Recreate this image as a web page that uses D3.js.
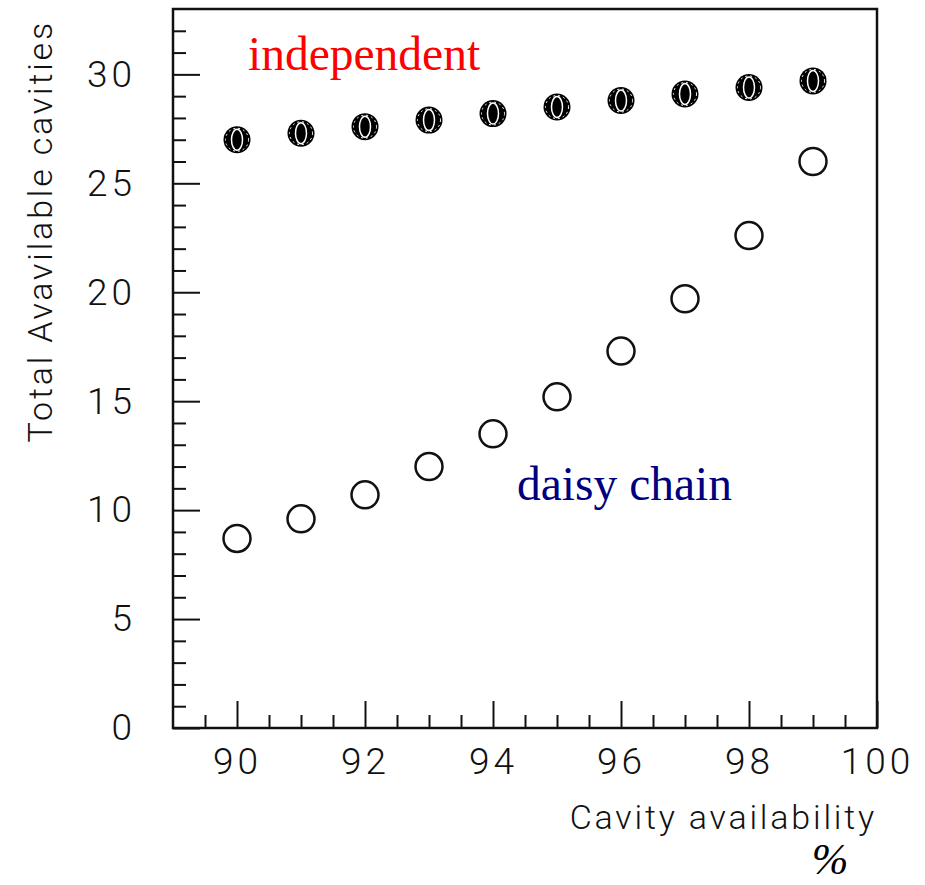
<!DOCTYPE html>
<html>
<head>
<meta charset="utf-8">
<script src="https://cdn.jsdelivr.net/npm/d3@7"></script>
<style>
body { margin:0; background:#fff; }
.axis text { font-family: Roboto, "DejaVu Sans", sans-serif; font-weight:300; fill:#111; }
</style>
</head>
<body>
<svg id="plot"></svg>
<script>
// cavity availability in %
var availability = [90,91,92,93,94,95,96,97,98,99];
// total available cavities, each cavity independent
var independent = [27.0,27.3,27.6,27.9,28.2,28.5,28.8,29.1,29.4,29.7];
// total available cavities, daisy chained
var daisyChain = [8.7,9.6,10.7,12.0,13.5,15.2,17.3,19.7,22.6,26.0];

var xMajor = [90,92,94,96,98,100];
var yMajor = [0,5,10,15,20,25,30];

var screen = {width:925, height:885};
var frame = {left:173, right:877, top:9, bottom:728};

var svg = d3.select("#plot")
    .attr("width",screen.width)
    .attr("height",screen.height);

var xScale = d3.scaleLinear()
    .domain([89,100])
    .range([frame.left,frame.right]);
var yScale = d3.scaleLinear()
    .domain([0,33])
    .range([frame.bottom,frame.top]);

//minor ticks every half unit on x, every unit on y
var xMinor = d3.range(89.5,100,0.5).filter(function(v){ return v%2!=0; });
var yMinor = d3.range(1,33,1).filter(function(v){ return v%5!=0; });

var axes = svg.append("g").classed("axis",true);

axes.append("g")
    .attr("transform","translate(0,"+frame.bottom+")")
    .call(d3.axisBottom(xScale).tickValues(xMinor).tickSize(-13).tickFormat(""));
axes.append("g")
    .attr("transform","translate(0,"+frame.bottom+")")
    .call(d3.axisBottom(xScale).tickValues(xMajor).tickSize(-27).tickPadding(20).tickFormat(d3.format("d")));
axes.append("g")
    .attr("transform","translate("+frame.left+",0)")
    .call(d3.axisLeft(yScale).tickValues(yMinor).tickSize(-13).tickFormat(""));
axes.append("g")
    .attr("transform","translate("+frame.left+",0)")
    .call(d3.axisLeft(yScale).tickValues(yMajor).tickSize(-27).tickPadding(37).tickFormat(d3.format("d")));

axes.selectAll(".domain").remove();
axes.selectAll("line").attr("stroke","#111").attr("stroke-width",2);
axes.selectAll("text")
    .attr("font-size",37)
    .attr("letter-spacing",4);

//the frame
svg.append("rect")
    .attr("x",frame.left)
    .attr("y",frame.top)
    .attr("width",frame.right-frame.left)
    .attr("height",frame.bottom-frame.top)
    .attr("fill","none")
    .attr("stroke","#111")
    .attr("stroke-width",2.5);

//axis titles
svg.append("text")
    .attr("x",frame.right)
    .attr("y",829)
    .attr("text-anchor","end")
    .attr("font-family","Roboto, 'DejaVu Sans', sans-serif")
    .attr("font-weight",300)
    .attr("font-size",34)
    .attr("letter-spacing",2.8)
    .attr("fill","#111")
    .text("Cavity availability");

svg.append("text")
    .attr("transform","translate(52,20) rotate(-90)")
    .attr("text-anchor","end")
    .attr("font-family","Roboto, 'DejaVu Sans', sans-serif")
    .attr("font-weight",300)
    .attr("font-size",34)
    .attr("letter-spacing",2.8)
    .attr("fill","#111")
    .text("Total Avavilable cavities");

svg.append("text")
    .attr("x",830)
    .attr("y",874)
    .attr("text-anchor","middle")
    .attr("font-family","'Liberation Serif', serif")
    .attr("font-style","italic")
    .attr("font-size",44)
    .text("%");

//labels for the two series
svg.append("text")
    .attr("x",248)
    .attr("y",70)
    .attr("font-family","'Liberation Serif', serif")
    .attr("font-size",47.5)
    .attr("fill","#ff0000")
    .text("independent");
svg.append("text")
    .attr("x",517)
    .attr("y",500)
    .attr("font-family","'Liberation Serif', serif")
    .attr("font-size",47.5)
    .attr("fill","#00007f")
    .text("daisy chain");

//open circles for the daisy chain
svg.append("g")
    .selectAll("circle")
    .data(availability)
    .enter()
    .append("circle")
    .attr("cx",function(d){ return xScale(d); })
    .attr("cy",function(d,i){ return yScale(daisyChain[i]); })
    .attr("r",13.5)
    .attr("fill","#fff")
    .attr("stroke","#111")
    .attr("stroke-width",2.5);

//filled markers for independent
var dots = svg.append("g")
    .selectAll("g")
    .data(availability)
    .enter()
    .append("g")
    .attr("transform",function(d,i)
    {
        return "translate("+xScale(d)+","+yScale(independent[i])+")";
    });
dots.append("circle")
    .attr("r",13.5)
    .attr("fill","#000");
dots.append("circle")
    .attr("r",11.5)
    .attr("fill","none")
    .attr("stroke","#fff")
    .attr("stroke-width",1)
    .attr("stroke-dasharray","2,3");
dots.append("ellipse")
    .attr("rx",5.5)
    .attr("ry",10.5)
    .attr("fill","none")
    .attr("stroke","#fff")
    .attr("stroke-width",1.5);
</script>
</body>
</html>
